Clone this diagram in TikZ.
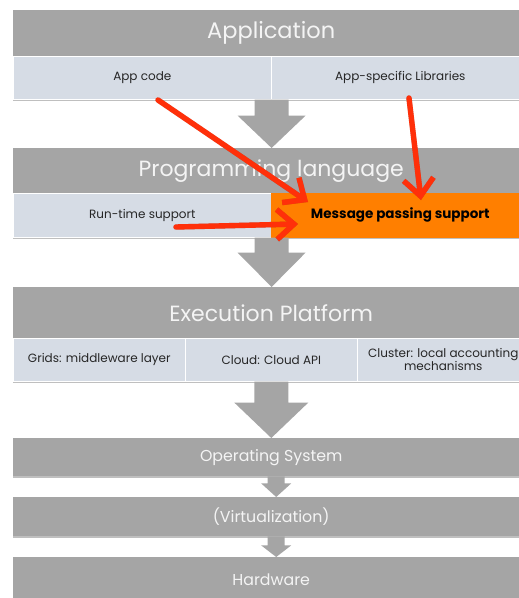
\documentclass[tikz,border=0pt]{standalone}
\usepackage{fontspec}
\setmainfont{Poppins}
\usetikzlibrary{calc,arrows.meta,shadows}
\definecolor{hdr}{HTML}{A5A5A5}
\definecolor{cellc}{HTML}{D6DCE5}
\definecolor{orng}{HTML}{FF7F00}
\definecolor{redarr}{HTML}{FF300A}
\definecolor{txt}{HTML}{262626}
\definecolor{hdrtxt}{HTML}{F4F4F4}
\begin{document}
\begin{tikzpicture}[x=1pt,y=-1pt,
  boxshadow/.style={drop shadow={shadow xshift=0pt,shadow yshift=-1.5pt,opacity=0.25,fill=black}},
  hdrbox/.style={boxshadow,fill=hdr,anchor=north west,inner sep=0pt,text=hdrtxt,minimum width=516pt},
  cellbox/.style={boxshadow,fill=cellc,draw=white,line width=0.6pt,anchor=north west,inner sep=0pt,text=txt,align=center,font=\fontsize{12}{13}\selectfont},
  blockarrow/.style={fill=hdr},
  redline/.style={draw=redarr,line width=5.4pt,line cap=round,line join=round,-{Straight Barb[length=17pt,width=30pt,line width=5.4pt]}}
]
\clip (0,0) rectangle (519,598);
\fill[white] (0,0) rectangle (519,598);

% Application
\node[hdrbox,minimum height=46pt,font=\fontsize{22.5}{24}\selectfont] (app) at (13,10) {Application};
\node[cellbox,minimum width=258pt,minimum height=43pt] (appcode) at (13,56) {App code};
\node[cellbox,minimum width=258pt,minimum height=43pt] (applib) at (271,56) {App-specific Libraries};

% Programming language
\node[hdrbox,minimum height=45pt,font=\fontsize{22}{24}\selectfont] (pl) at (13,148) {Programming language};
\node[cellbox,minimum width=258pt,minimum height=44pt] (rts) at (13,193) {Run-time support};
\node[cellbox,fill=orng,draw=orng,minimum width=258pt,minimum height=44pt,font=\fontsize{13.5}{15}\selectfont\bfseries,text=black] (mps) at (271,193) {Message passing support};

% Execution platform
\node[hdrbox,minimum height=51pt,font=\fontsize{22}{24}\selectfont] (ep) at (13,287) {Execution Platform};
\node[cellbox,minimum width=172pt,minimum height=43pt] (grids) at (13,338) {Grids: middleware layer};
\node[cellbox,minimum width=172pt,minimum height=43pt] (cloud) at (185,338) {Cloud: Cloud API};
\node[cellbox,minimum width=172pt,minimum height=43pt] (cluster) at (357,338) {Cluster: local accounting\\mechanisms};

% Lower layers
\node[hdrbox,minimum height=38pt,font=\fontsize{15.8}{17}\selectfont] (os) at (13,438) {Operating System};
\node[hdrbox,minimum height=39pt,font=\fontsize{15.8}{17}\selectfont] (virt) at (13,497) {(Virtualization)};
\node[hdrbox,minimum height=45pt,font=\fontsize{15.8}{17}\selectfont] (hw) at (13,557) {Hardware};

% Block arrows
\coordinate (a1) at (appcode.south east);
\coordinate (b1) at (pl.north -| appcode.south east);
\fill[blockarrow] ($(a1)+(-17,0)$) -- ($(a1)+(17,0)$) -- ($(a1)+(17,16)$) -- ($(a1)+(34,16)$) -- (b1)
  -- ($(a1)+(-34,16)$) -- ($(a1)+(-17,16)$) -- cycle;
\coordinate (a2) at (rts.south east);
\coordinate (b2) at (ep.north -| rts.south east);
\fill[blockarrow] ($(a2)+(-17,0)$) -- ($(a2)+(17,0)$) -- ($(a2)+(17,15)$) -- ($(a2)+(34,15)$) -- (b2)
  -- ($(a2)+(-34,15)$) -- ($(a2)+(-17,15)$) -- cycle;
\coordinate (a3) at (cloud.south);
\coordinate (b3) at (os.north -| cloud.south);
\fill[blockarrow] ($(a3)+(-17,0)$) -- ($(a3)+(17,0)$) -- ($(a3)+(17,21)$) -- ($(a3)+(37,21)$) -- (b3)
  -- ($(a3)+(-37,21)$) -- ($(a3)+(-17,21)$) -- cycle;
\coordinate (a4) at ($(os.south)+(5,0)$);
\coordinate (b4) at (virt.north -| a4);
\fill[blockarrow] ($(a4)+(-8.5,0)$) -- ($(a4)+(8.5,0)$) -- ($(a4)+(8.5,7)$) -- ($(a4)+(15,7)$) -- (b4)
  -- ($(a4)+(-15,7)$) -- ($(a4)+(-8.5,7)$) -- cycle;
\coordinate (a5) at ($(virt.south)+(5,0)$);
\coordinate (b5) at (hw.north -| a5);
\fill[blockarrow] ($(a5)+(-8.5,0)$) -- ($(a5)+(8.5,0)$) -- ($(a5)+(8.5,9)$) -- ($(a5)+(15,9)$) -- (b5)
  -- ($(a5)+(-15,9)$) -- ($(a5)+(-8.5,9)$) -- cycle;

% Red arrows
\coordinate (r1s) at (158,100);
\coordinate (r1e) at (308,202);
\coordinate (r2s) at (409,98);
\coordinate (r2e) at (421,200);
\coordinate (r3s) at (176,227);
\coordinate (r3e) at (298,224);
\begin{scope}[opacity=0.22,shift={(1.2,2)}]
\draw[redline,draw=black] (r1s) -- (r1e);
\draw[redline,draw=black] (r2s) -- (r2e);
\draw[redline,draw=black] (r3s) -- (r3e);
\end{scope}
\draw[redline] (r1s) -- (r1e);
\draw[redline] (r2s) -- (r2e);
\draw[redline] (r3s) -- (r3e);
\end{tikzpicture}
\end{document}
